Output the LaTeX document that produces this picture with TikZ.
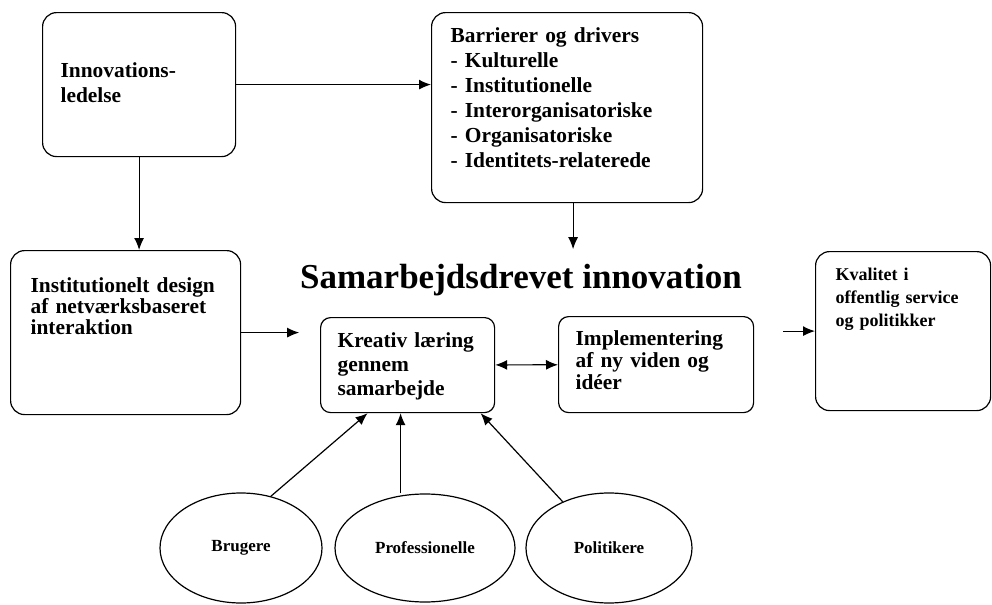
\documentclass[tikz,border=0pt]{standalone}
\usepackage{fontspec}
\setmainfont{Liberation Serif}
\usetikzlibrary{shapes.geometric,arrows.meta}

\begin{document}
\begin{tikzpicture}[x=0.5pt, y=-0.5pt, node distance={92pt}, line width=0.6pt,
    box/.style = {draw, rounded corners=7pt, align=left, anchor=north west, inner xsep=9pt, inner ysep=0pt,
      font=\fontsize{10.7}{12.5}\selectfont\bfseries},
    oval/.style = {draw, ellipse, minimum width=82pt, minimum height=55pt, font=\fontsize{8.5}{10}\selectfont\bfseries},
    arr/.style = {-{Latex[length=6pt,width=5pt]}},
    arrs/.style = {{Latex[length=6pt,width=5pt]}-{Latex[length=6pt,width=5pt]}}]
	\useasboundingbox (0,0) rectangle (992,605);
	
		\node[box, text width=78.5pt, text height=32.5pt, text depth=39.5pt] (inn) at (42,12) {Innovations-\\ledelse};
		\node[box, inner xsep=9.5pt, text width=116.5pt, text height=15pt, text depth=80pt] (bar) at (431,12)
			{Barrierer og drivers\\- Kulturelle\\- Institutionelle\\- Interorganisatoriske\\- Organisatoriske\\- Identitets-relaterede};
		\node[box, inner xsep=10pt, text width=95pt, text height=21pt, text depth=61pt, font=\fontsize{10.7}{10.5}\selectfont\bfseries] (ins) at (10,250)
			{Institutionelt design\\af netværksbaseret\\interaktion};
		\node[font=\fontsize{17.5}{20}\selectfont\bfseries, anchor=base] (sam) at (521,288) {Samarbejdsdrevet innovation};
		\node[box, rounded corners=5pt, inner xsep=8.5pt, text width=70pt, text height=15pt, text depth=32.5pt, font=\fontsize{10.7}{12}\selectfont\bfseries] (kre) at (320,317)
			{Kreativ læring\\gennem\\samarbejde};
		\node[box, rounded corners=5pt, inner xsep=8.5pt, text width=80.5pt, text height=14.5pt, text depth=33.5pt, font=\fontsize{10.7}{11}\selectfont\bfseries] (imp) at (558,316)
			{Implementering\\af ny viden og\\idéer};
		\node[box, inner xsep=10pt, text width=67.5pt, text height=14.5pt, text depth=65pt, font=\fontsize{9}{11.5}\selectfont\bfseries] (kva) at (815,251)
			{Kvalitet i\\offentlig service\\og politikker};
		
		\node[oval, minimum width=81pt] (bru) at (241,548) {Brugere};
		\node[oval, minimum width=90pt, minimum height=54pt] (pro) [right of=bru] {Professionelle};
		\node[oval, minimum width=83pt] (pol) [right of=pro] {Politikere};
		
		\coordinate (barend) at ([xshift=3pt,yshift=-23pt]bar.south);
		\coordinate (insend) at ([xshift=29pt]ins.east);
		\coordinate (kvastart) at ([xshift=-16pt]kva.west);
		
		\draw[arr] (inn) -- (inn -| bar.west);
		\draw[arr] (inn.south) -- (inn.south |- ins.north);
		\draw[arr] (barend |- bar.south) -- (barend);
		\draw[arr] (ins) -- (insend);
		\draw[arrs] (kre) -- (imp);
		\draw[arr] (kvastart) -- (kva);
		\draw[arr] (bru.60) -- ([xshift=-20pt]kre.south);
		\draw[arr] ([xshift=-3.5pt]kre.south |- pro.north) -- ([xshift=-3.5pt]kre.south);
		\draw[arr] (pol.135) -- ([xshift=36.5pt]kre.south);
	\end{tikzpicture}
\end{document}
